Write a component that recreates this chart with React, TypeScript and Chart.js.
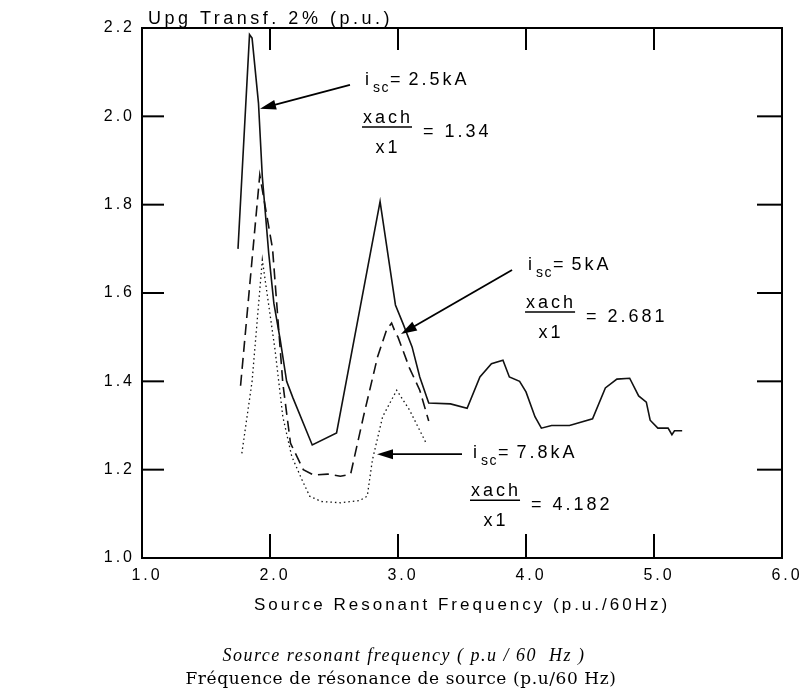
import React, { useEffect, useRef } from "react";
import { Chart, registerables } from "chart.js";

Chart.register(...registerables);

// ---------------- data ----------------
const X_MIN = 1.0;
const X_MAX = 6.0;
const X_STEP = 1.0;
const Y_MIN = 1.0;
const Y_MAX = 2.2;
const Y_STEP = 0.2;

const Y_TITLE = "Upg Transf. 2% (p.u.)";
const X_TITLE = "Source Resonant Frequency (p.u./60Hz)";
const CAPTION_EN = "Source resonant frequency ( p.u / 60  Hz )";
const CAPTION_FR = "Fréquence de résonance de source (p.u/60 Hz)";

// i_sc = 2.5 kA (solid)
const isc25X = [1.75, 1.84, 1.86, 1.91, 1.94, 1.99, 2.03, 2.08, 2.13, 2.18, 2.33, 2.52, 2.86, 2.98, 3.04, 3.11, 3.17, 3.24, 3.41, 3.54, 3.64, 3.73, 3.82, 3.87, 3.95, 4.0, 4.07, 4.12, 4.2, 4.34, 4.52, 4.62, 4.71, 4.81, 4.88, 4.94, 4.97, 5.03, 5.11, 5.14, 5.16, 5.22];
const isc25Y = [1.7, 2.185, 2.177, 2.03, 1.863, 1.69, 1.577, 1.494, 1.4, 1.362, 1.256, 1.283, 1.807, 1.573, 1.53, 1.478, 1.41, 1.351, 1.349, 1.339, 1.41, 1.44, 1.448, 1.41, 1.4, 1.376, 1.32, 1.294, 1.3, 1.3, 1.315, 1.385, 1.405, 1.407, 1.367, 1.353, 1.312, 1.294, 1.294, 1.279, 1.288, 1.288];

// i_sc = 5 kA (dashed)
const isc5X = [1.77, 1.92, 2.02, 2.1, 2.16, 2.26, 2.34, 2.45, 2.55, 2.63, 2.73, 2.84, 2.91, 2.95, 2.98, 3.0, 3.09, 3.17, 3.24];
const isc5Y = [1.39, 1.867, 1.7, 1.396, 1.26, 1.2, 1.188, 1.19, 1.185, 1.19, 1.32, 1.455, 1.516, 1.532, 1.51, 1.5, 1.43, 1.38, 1.31];

// i_sc = 7.8 kA (dotted)
const isc78X = [1.78, 1.86, 1.94, 2.04, 2.1, 2.17, 2.25, 2.31, 2.4, 2.55, 2.7, 2.76, 2.8, 2.88, 2.99, 3.09, 3.22];
const isc78Y = [1.237, 1.4, 1.675, 1.47, 1.32, 1.23, 1.177, 1.14, 1.128, 1.125, 1.13, 1.14, 1.222, 1.32, 1.38, 1.335, 1.26];

// annotation text
const seriesCurrents = ["2.5kA", "5kA", "7.8kA"];
const seriesRatios = ["1.34", "2.681", "4.182"];
// annotation anchors (data units)
const labelAnchorX = [2.742, 4.016, 3.586];
const labelAnchorY = [2.071, 1.652, 1.226];
const arrowFromX = [2.625, 3.891, 3.5];
const arrowFromY = [2.071, 1.652, 1.235];
const arrowToX = [1.922, 3.023, 2.836];
const arrowToY = [2.017, 1.507, 1.235];

// ---------------- layout ----------------
const W = 808;
const H = 692;
const FONT = '"Liberation Sans", Arial, sans-serif';

const toPts = (xs: number[], ys: number[]) => xs.map((x, i) => ({ x, y: ys[i] }));

function spacing(ctx: CanvasRenderingContext2D, px: number) {
  (ctx as any).letterSpacing = px + "px";
}

function drawArrow(ctx: CanvasRenderingContext2D, x0: number, y0: number, x1: number, y1: number) {
  const ang = Math.atan2(y1 - y0, x1 - x0);
  const L = 16;
  const Wd = 5;
  const c = Math.cos(ang);
  const s = Math.sin(ang);
  const bx = x1 - L * c;
  const by = y1 - L * s;
  ctx.beginPath();
  ctx.moveTo(x0, y0);
  ctx.lineTo(bx + 2 * c, by + 2 * s);
  ctx.stroke();
  ctx.beginPath();
  ctx.moveTo(x1, y1);
  ctx.lineTo(bx + Wd * s, by - Wd * c);
  ctx.lineTo(bx - Wd * s, by + Wd * c);
  ctx.closePath();
  ctx.fill();
}

const spacingPlugin = {
  id: "spacing",
  beforeLayout(chart: any) {
    spacing(chart.ctx, 3);
  },
  beforeDraw(chart: any) {
    spacing(chart.ctx, 3);
  },
};

const framePlugin = {
  id: "frame",
  afterDatasetsDraw(chart: any) {
    const { ctx, chartArea: a, scales } = chart;
    const xs = scales.x;
    const ys = scales.y;
    ctx.save();
    ctx.strokeStyle = "#000";
    ctx.lineWidth = 2;
    ctx.strokeRect(a.left, a.top, a.right - a.left, a.bottom - a.top);
    const line = (x0: number, y0: number, x1: number, y1: number) => {
      ctx.beginPath();
      ctx.moveTo(x0, y0);
      ctx.lineTo(x1, y1);
      ctx.stroke();
    };
    xs.ticks.forEach((t: any) => {
      if (t.value <= xs.min || t.value >= xs.max) return;
      const px = xs.getPixelForValue(t.value);
      line(px, a.bottom, px, a.bottom - 24);
      line(px, a.top, px, a.top + 22);
    });
    ys.ticks.forEach((t: any) => {
      if (t.value <= ys.min + 1e-9 || t.value >= ys.max - 1e-9) return;
      const py = ys.getPixelForValue(t.value);
      line(a.left, py, a.left + 22, py);
      line(a.right, py, a.right - 25, py);
    });
    ctx.restore();
  },
};

const annotationPlugin = {
  id: "annotations",
  afterDraw(chart: any) {
    const { ctx, chartArea: a, scales } = chart;
    const xs = scales.x;
    const ys = scales.y;
    ctx.save();
    ctx.fillStyle = "#000";
    ctx.strokeStyle = "#000";
    ctx.lineWidth = 1.8;
    ctx.textAlign = "left";
    ctx.textBaseline = "alphabetic";

    for (let i = 0; i < seriesCurrents.length; i++) {
      drawArrow(
        ctx,
        xs.getPixelForValue(arrowFromX[i]),
        ys.getPixelForValue(arrowFromY[i]),
        xs.getPixelForValue(arrowToX[i]),
        ys.getPixelForValue(arrowToY[i])
      );
      const ax = xs.getPixelForValue(labelAnchorX[i]);
      const ay = ys.getPixelForValue(labelAnchorY[i]);
      // i_sc = value
      ctx.font = `18px ${FONT}`;
      spacing(ctx, 3);
      ctx.fillText("i", ax, ay);
      ctx.font = `14px ${FONT}`;
      spacing(ctx, 1.5);
      ctx.fillText("sc", ax + 8, ay + 7);
      let cx = ax + 8 + ctx.measureText("sc").width;
      ctx.font = `18px ${FONT}`;
      spacing(ctx, 3);
      ctx.fillText("=", cx, ay);
      cx += ctx.measureText("=").width + 5;
      ctx.fillText(seriesCurrents[i], cx, ay);
      // fraction xach / x1 = ratio
      const fx = ax - 2;
      const wXach = ctx.measureText("xach").width - 3;
      ctx.fillText("xach", fx, ay + 38);
      ctx.lineWidth = 1.6;
      ctx.beginPath();
      ctx.moveTo(fx - 1, ay + 42);
      ctx.lineTo(fx + wXach + 2, ay + 42);
      ctx.stroke();
      ctx.lineWidth = 1.8;
      const wX1 = ctx.measureText("x1").width - 3;
      ctx.fillText("x1", fx + (wXach - wX1) / 2, ay + 68);
      ctx.fillText("= " + seriesRatios[i], ax + 58, ay + 52);
    }

    // y axis title (top-left)
    ctx.font = `18px ${FONT}`;
    spacing(ctx, 3.5);
    ctx.fillText(Y_TITLE, a.left + 6, a.top - 4);

    // captions
    ctx.textAlign = "center";
    ctx.font = `italic 18px "Liberation Serif", serif`;
    spacing(ctx, 1.5);
    ctx.fillText(CAPTION_EN, 404, 661);
    ctx.font = `17px "DejaVu Serif", serif`;
    spacing(ctx, 0.6);
    ctx.fillText(CAPTION_FR, 401, 684);
    ctx.restore();
  },
};

export default function App() {
  const ref = useRef<HTMLCanvasElement | null>(null);

  useEffect(() => {
    if (!ref.current) return;
    const lineBase = {
      showLine: true,
      pointRadius: 0,
      pointHoverRadius: 0,
      tension: 0,
      fill: false,
      borderColor: "#111",
      backgroundColor: "#111",
    };
    const chart = new Chart(ref.current, {
      type: "scatter",
      data: {
        datasets: [
          { ...lineBase, label: "i_sc = 2.5kA", data: toPts(isc25X, isc25Y), borderWidth: 1.6 },
          { ...lineBase, label: "i_sc = 5kA", data: toPts(isc5X, isc5Y), borderWidth: 1.6, borderDash: [11, 6] },
          { ...lineBase, label: "i_sc = 7.8kA", data: toPts(isc78X, isc78Y), borderWidth: 1.3, borderDash: [1.5, 3] },
        ],
      } as any,
      options: {
        animation: false,
        responsive: false,
        devicePixelRatio: 1,
        layout: { padding: { left: 8, top: 28, right: 26, bottom: 54 } },
        plugins: { legend: { display: false }, tooltip: { enabled: false }, title: { display: false } },
        scales: {
          x: {
            type: "linear",
            min: X_MIN,
            max: X_MAX,
            afterFit: (s: any) => {
              s.height = 80;
            },
            ticks: {
              stepSize: X_STEP,
              color: "#000",
              font: { family: FONT, size: 16 },
              padding: 8,
              labelOffset: 5,
              maxRotation: 0,
              callback: (v: any) => Number(v).toFixed(1),
            },
            grid: { display: false, drawTicks: false },
            border: { display: false },
            title: {
              display: true,
              text: X_TITLE,
              color: "#000",
              font: { family: FONT, size: 17 },
              padding: { top: 0, bottom: 22 },
            },
          },
          y: {
            type: "linear",
            min: Y_MIN,
            max: Y_MAX,
            afterFit: (s: any) => {
              s.width = 134;
            },
            ticks: {
              stepSize: Y_STEP,
              color: "#000",
              font: { family: FONT, size: 16 },
              padding: 7,
              callback: (v: any) => Number(v).toFixed(1),
            },
            grid: { display: false, drawTicks: false },
            border: { display: false },
          },
        },
      } as any,
      plugins: [spacingPlugin, framePlugin, annotationPlugin],
    });
    return () => chart.destroy();
  }, []);

  return (
    <div style={{ position: "fixed", left: 0, top: 0, width: W, height: H, background: "#fff" }}>
      <canvas ref={ref} width={W} height={H} style={{ width: W, height: H, display: "block" }} />
    </div>
  );
}
